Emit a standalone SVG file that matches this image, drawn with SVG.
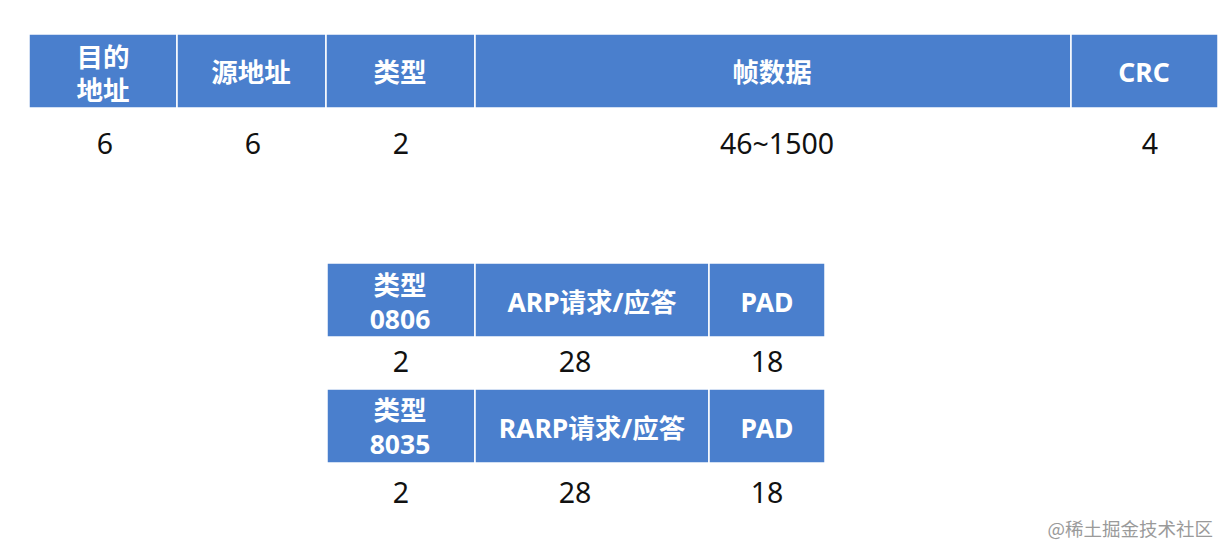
<svg xmlns="http://www.w3.org/2000/svg" width="1230" height="554" viewBox="0 0 1230 554">
<style>
.cell{fill:#4a7fcd;stroke:#ffffff;stroke-width:1.5}
.h{font-family:"Noto Sans","Noto Sans CJK SC",sans-serif;font-weight:bold;font-size:26.5px;fill:#ffffff;text-anchor:middle;dominant-baseline:central}
.n{font-family:"Noto Sans","Noto Sans CJK SC",sans-serif;font-size:28.5px;fill:#111111;text-anchor:middle;dominant-baseline:central}
.wm{font-family:"Noto Sans CJK SC",sans-serif;font-size:18.5px;fill:#9a9a9a;text-anchor:end;dominant-baseline:central}
</style>
<rect width="1230" height="554" fill="#ffffff"/>
<g id="frame">
  <g id="dst"><rect class="cell" x="29" y="34" width="148" height="74"/><text class="h" x="103" y="57">目的<tspan x="103" dy="33">地址</tspan></text><text class="n" x="105" y="143">6</text></g>
  <g id="src"><rect class="cell" x="177" y="34" width="149" height="74"/><text class="h" x="251" y="72">源地址</text><text class="n" x="253" y="143">6</text></g>
  <g id="type"><rect class="cell" x="326" y="34" width="149" height="74"/><text class="h" x="400" y="72">类型</text><text class="n" x="401" y="143">2</text></g>
  <g id="data"><rect class="cell" x="475" y="34" width="596" height="74"/><text class="h" x="772" y="72">帧数据</text><text class="n" x="777" y="143">46~1500</text></g>
  <g id="crc"><rect class="cell" x="1071" y="34" width="147" height="74"/><text class="h" x="1144" y="72">CRC</text><text class="n" x="1150" y="143">4</text></g>
</g>
<g id="arp">
  <g id="arp-type"><rect class="cell" x="327" y="263" width="148" height="74"/><text class="h" x="400" y="285">类型<tspan x="400" dy="33.5">0806</tspan></text><text class="n" x="401" y="361">2</text></g>
  <g id="arp-body"><rect class="cell" x="475" y="263" width="234" height="74"/><text class="h" x="592" y="302">ARP请求/应答</text><text class="n" x="575" y="361">28</text></g>
  <g id="arp-pad"><rect class="cell" x="709" y="263" width="116" height="74"/><text class="h" x="767" y="302">PAD</text><text class="n" x="767" y="361">18</text></g>
</g>
<g id="rarp">
  <g id="rarp-type"><rect class="cell" x="327" y="389" width="148" height="74"/><text class="h" x="400" y="410">类型<tspan x="400" dy="33.5">8035</tspan></text><text class="n" x="401" y="492">2</text></g>
  <g id="rarp-body"><rect class="cell" x="475" y="389" width="234" height="74"/><text class="h" x="592" y="428">RARP请求/应答</text><text class="n" x="575" y="492">28</text></g>
  <g id="rarp-pad"><rect class="cell" x="709" y="389" width="116" height="74"/><text class="h" x="767" y="428">PAD</text><text class="n" x="767" y="492">18</text></g>
</g>
<g id="connectors"></g>
<text class="wm" x="1213" y="528">@稀土掘金技术社区</text>
</svg>
